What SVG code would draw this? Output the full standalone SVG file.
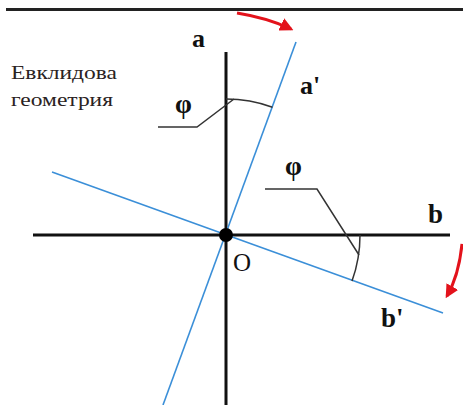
<svg xmlns="http://www.w3.org/2000/svg" width="463" height="405" viewBox="0 0 463 405">
<defs>
<style>
.axis{stroke:#111;stroke-width:3;fill:none}
.rot{stroke:#3b8fd8;stroke-width:1.6;fill:none}
.thin{stroke:#333;stroke-width:1.5;fill:none}
.red{stroke:#e3121b;stroke-width:3;fill:none}
</style>
<marker id="ah" viewBox="0 0 10 10" refX="8" refY="5" markerWidth="4.5" markerHeight="4.5" orient="auto" markerUnits="strokeWidth">
<path d="M0,0 L10,5 L0,10 Z" fill="#e3121b"/>
</marker>
</defs>
<rect x="6" y="8" width="457" height="3" fill="#222"/>
<g font-family="'Liberation Serif', 'Times New Roman', serif">
<text x="11" y="79" font-size="19" fill="#2a2222" textLength="106" lengthAdjust="spacingAndGlyphs">Евклидова</text>
<text x="11" y="106" font-size="19" fill="#2a2222" textLength="102" lengthAdjust="spacingAndGlyphs">геометрия</text>
</g>
<g id="connectors">
<line id="axis-a" class="axis" x1="226" y1="52" x2="226" y2="405"/>
<line id="axis-b" class="axis" x1="33" y1="235" x2="450" y2="235"/>
<line id="axis-a2" class="rot" x1="296" y1="42" x2="163" y2="405"/>
<line id="axis-b2" class="rot" x1="52" y1="172" x2="443" y2="313"/>
<path class="thin" d="M226,99 A136,136 0 0 1 272.5,107.2"/>
<path class="thin" d="M360,235 A134,134 0 0 1 352,281"/>
<polyline class="thin" points="158,127 197,127 234,99"/>
<polyline class="thin" points="265,189 317,189 359,255"/>
<path class="red" d="M237,13 Q268,18 291,29" marker-end="url(#ah)"/>
<path class="red" d="M462,244 Q459,275 447,296" marker-end="url(#ah)"/>
</g>
<g font-family="'Liberation Serif', 'Times New Roman', serif" fill="#111">
<g id="origin">
<circle cx="226" cy="235" r="7" fill="#000"/>
<text x="233" y="271" font-size="25">O</text>
</g>
<g id="label-a"><text x="192" y="47" font-size="26" font-weight="bold">a</text></g>
<g id="label-a2"><text x="300" y="94" font-size="26" font-weight="bold">a'</text></g>
<g id="label-b"><text x="428" y="223" font-size="27" font-weight="bold">b</text></g>
<g id="label-b2"><text x="381" y="327" font-size="27" font-weight="bold">b'</text></g>
<g id="phi-1"><text x="175" y="113" font-size="27" font-weight="bold">φ</text></g>
<g id="phi-2"><text x="285" y="175" font-size="27" font-weight="bold">φ</text></g>
</g>
</svg>
